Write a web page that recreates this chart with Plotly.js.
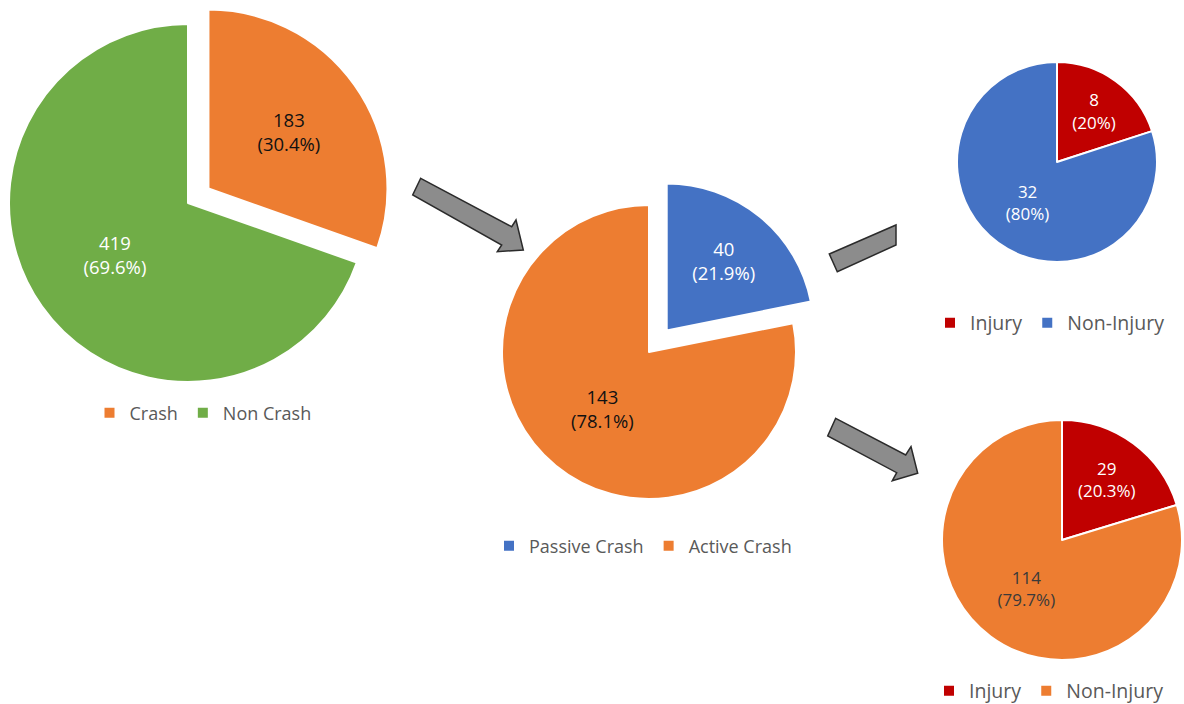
<!DOCTYPE html>
<html>
<head>
<meta charset="utf-8">
<script src="https://cdn.plot.ly/plotly-3.0.1.min.js"></script>
<style>
  html, body { margin:0; padding:0; background:#fff; overflow:hidden; width:1184px; height:704px; }
  #chart { position:absolute; left:-40px; top:-20px; width:1264px; height:744px; }
</style>
</head>
<body>
<div id="chart"></div>
<script>
// ---- data ----
const crashLabels   = ['Crash', 'Non Crash'];
const crashValues   = [183, 419];
const typeLabels    = ['Passive Crash', 'Active Crash'];
const typeValues    = [40, 143];
const passiveLabels = ['Injury', 'Non-Injury'];
const passiveValues = [8, 32];
const activeLabels  = ['Injury', 'Non-Injury'];
const activeValues  = [29, 114];

// ---- styling / layout helpers ----
const OX = 40, OY = 20, W = 1264, H = 744;
const FONT = '"Open Sans", "Noto Sans", sans-serif';
const ORANGE = '#ED7D31', GREEN = '#70AD47', BLUE = '#4472C4', RED = '#C00000';
function px(x) { return (x + OX) / W; }
function py(y) { return 1 - (y + OY) / H; }
function dom(cx, cy, half) { return { x: [px(cx - half), px(cx + half)], y: [py(cy + half), py(cy - half)] }; }

function pie(labels, values, colors, textColors, textSize, pull, domain, legendId, group) {
  return {
    type: 'pie', labels: labels, values: values,
    sort: false, direction: 'clockwise', rotation: 0,
    pull: pull,
    marker: { colors: colors, line: { color: '#ffffff', width: 2 } },
    texttemplate: '%{value}<br>(%{percent})',
    textposition: 'inside',
    insidetextorientation: 'horizontal',
    textfont: { family: FONT, size: textSize, color: textColors },
    hoverinfo: 'skip',
    domain: domain,
    legend: legendId,
    legendgroup: group,
    showlegend: true
  };
}

const traces = [
  pie(crashLabels, crashValues, [ORANGE, GREEN], ['#111111', '#ffffff'], 18.5, [0.14, 0], dom(188, 203, 179 * 1.14), 'legend', 'g1'),
  pie(typeLabels, typeValues, [BLUE, ORANGE], ['#ffffff', '#111111'], 18.5, [0.19, 0], dom(649, 352, 147 * 1.19), 'legend2', 'g2'),
  pie(passiveLabels, passiveValues, [RED, BLUE], ['#ffffff', '#ffffff'], 17, [0, 0], dom(1057, 162, 100), 'legend3', 'g3'),
  pie(activeLabels, activeValues, [RED, ORANGE], ['#ffffff', '#3a3a3a'], 17, [0, 0], dom(1062, 540, 120), 'legend4', 'g4')
];

function legend(cx, cy, size) {
  return {
    orientation: 'h', x: px(cx), y: py(cy), xanchor: 'center', yanchor: 'middle',
    bgcolor: 'rgba(0,0,0,0)', font: { family: FONT, size: size, color: '#595959' },
    traceorder: 'normal'
  };
}

function arrowPath(pts) {
  return 'M' + pts.map(p => px(p[0]) + ',' + py(p[1])).join(' L') + ' Z';
}
const arrowStyle = { fillcolor: '#8c8c8c', line: { color: '#2b2b2b', width: 1.5 } };
const arrows = [
  [[420.7,178.3],[511.7,226.7],[516,220],[523.3,250],[497.3,251.7],[501.7,245],[412.7,195]],
  [[829.3,254],[896,225],[896,245],[837.3,271.7]],
  [[835.7,418.3],[905.7,455],[911,446.7],[917.7,473.3],[892.3,480.7],[896.7,472.7],[827.7,436]]
];
const shapes = arrows.map(a => Object.assign({ type: 'path', xref: 'paper', yref: 'paper', path: arrowPath(a), layer: 'above' }, arrowStyle));

const layout = {
  width: W, height: H,
  margin: { l: 0, r: 0, t: 0, b: 0 },
  paper_bgcolor: '#ffffff',
  font: { family: FONT },
  legend:  legend(203, 413, 18),
  legend2: legend(643, 546, 18),
  legend3: legend(1050, 323, 19.5),
  legend4: legend(1049, 691, 19.5),
  shapes: shapes
};

Plotly.newPlot('chart', traces, layout, { displayModeBar: false, staticPlot: true });
</script>
</body>
</html>
